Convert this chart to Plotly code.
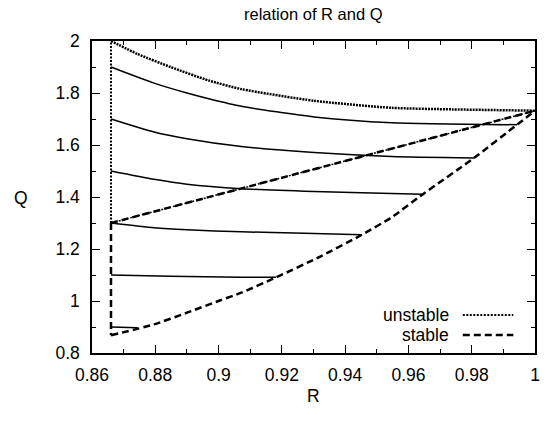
import plotly.graph_objects as go

# ---------------- data ----------------
# unstable branch: upper curve, vertical edge, and middle straight line
R_unst_top = [0.866, 0.8744, 0.8848, 0.8969, 0.9072, 0.9302, 0.9547, 0.974, 1.0]
Q_unst_top = [2.0, 1.950, 1.900, 1.848, 1.815, 1.770, 1.743, 1.737, 1.732]
R_unst_edge = [0.866, 0.866]
Q_unst_edge = [1.3, 2.0]
R_mid = [0.866, 1.0]
Q_mid = [1.3, 1.732]

# stable branch: vertical edge, lower curve
R_stab_edge = [0.866, 0.866]
Q_stab_edge = [1.3, 0.868]
R_stab_low = [0.866, 0.8796, 0.89, 0.9004, 0.9072, 0.9182, 0.9323, 0.9453, 0.9547, 0.9646, 0.9807, 0.9943, 1.0]
Q_stab_low = [0.868, 0.910, 0.955, 1.002, 1.032, 1.091, 1.172, 1.255, 1.322, 1.411, 1.550, 1.678, 1.732]

# trajectories (solid)
traj_R = [
    [0.866, 0.8796, 0.89, 0.8969, 0.9072, 0.9302, 0.9547, 0.9943],
    [0.866, 0.8796, 0.89, 0.9072, 0.9302, 0.9547, 0.9807],
    [0.866, 0.8796, 0.89, 0.9072, 0.9302, 0.9547, 0.9646],
    [0.866, 0.8796, 0.89, 0.9072, 0.9271, 0.9453],
    [0.866, 0.8848, 0.9072, 0.9182],
    [0.866, 0.8744],
]
traj_Q = [
    [1.9, 1.838, 1.800, 1.778, 1.749, 1.708, 1.686, 1.678],
    [1.7, 1.650, 1.624, 1.594, 1.571, 1.556, 1.550],
    [1.5, 1.468, 1.449, 1.432, 1.421, 1.413, 1.411],
    [1.3, 1.282, 1.274, 1.266, 1.261, 1.255],
    [1.1, 1.095, 1.091, 1.091],
    [0.9, 0.897],
]

x_tickvals = [0.86, 0.88, 0.90, 0.92, 0.94, 0.96, 0.98, 1.00]
x_ticktext = ["0.86", "0.88", "0.9", "0.92", "0.94", "0.96", "0.98", "1"]
y_tickvals = [0.8, 1.0, 1.2, 1.4, 1.6, 1.8, 2.0]
y_ticktext = ["0.8", "1", "1.2", "1.4", "1.6", "1.8", "2"]

legend_names = ["unstable", "stable"]

# ---------------- figure ----------------
FONT = "Liberation Sans, Arial, Helvetica, sans-serif"
FS = 17.5
fig = go.Figure()

for R, Q in zip(traj_R, traj_Q):
    fig.add_trace(go.Scatter(x=R, y=Q, mode="lines", showlegend=False,
                             line=dict(color="black", width=1.5, shape="spline", smoothing=0.6)))

dotted = dict(color="black", width=2.5, dash="2px,1px")
dashed = dict(color="black", width=2.5, dash="7px,4px")

fig.add_trace(go.Scatter(x=R_stab_edge, y=Q_stab_edge, mode="lines", showlegend=False, line=dashed))
fig.add_trace(go.Scatter(x=R_stab_low, y=Q_stab_low, mode="lines", showlegend=False,
                         line=dict(dashed, shape="spline", smoothing=0.6)))
fig.add_trace(go.Scatter(x=R_mid, y=Q_mid, mode="lines", showlegend=False, line=dashed))

fig.add_trace(go.Scatter(x=R_unst_edge, y=Q_unst_edge, mode="lines", showlegend=False,
                         line=dict(color="black", width=2, dash="2px,1.5px")))
fig.add_trace(go.Scatter(x=R_unst_top, y=Q_unst_top, mode="lines", showlegend=False,
                         line=dict(dotted, shape="spline", smoothing=0.6)))
fig.add_trace(go.Scatter(x=R_mid, y=Q_mid, mode="lines", showlegend=False,
                         line=dict(color="black", width=1.5, dash="2px,2px")))

axis_common = dict(
    showline=True, linecolor="black", linewidth=1.5, mirror="allticks",
    ticks="inside", ticklen=8, tickwidth=1.2, tickcolor="black",
    showgrid=False, zeroline=False,
    tickfont=dict(family=FONT, size=FS, color="black"),
)
fig.update_xaxes(range=[0.86, 1.0], tickvals=x_tickvals, ticktext=x_ticktext,
                 minor=dict(dtick=0.01, ticks="inside", ticklen=4, tickcolor="black", tickwidth=1.2),
                 ticklabelstandoff=5, **axis_common)
fig.update_yaxes(range=[0.8, 2.0], tickvals=y_tickvals, ticktext=y_ticktext,
                 minor=dict(dtick=0.1, ticks="inside", ticklen=4, tickcolor="black", tickwidth=1.2),
                 ticklabelstandoff=7, **axis_common)

annotations = [
    dict(text="relation of R and Q", x=0.5, y=1.087, xref="paper", yref="paper", xanchor="center",
         showarrow=False, font=dict(family=FONT, size=16.5, color="black"), yanchor="middle"),
    dict(text="R", x=0.5, y=-0.138, xref="paper", yref="paper", xanchor="center",
         showarrow=False, font=dict(family=FONT, size=FS, color="black"), yanchor="middle"),
    dict(text="Q", x=-0.161, y=0.497, xref="paper", yref="paper", xanchor="center",
         showarrow=False, font=dict(family=FONT, size=FS, color="black"), yanchor="middle"),
    dict(text=legend_names[0], x=0.810, y=0.122, xref="paper", yref="paper", xanchor="right",
         showarrow=False, font=dict(family=FONT, size=FS, color="black"), yanchor="middle"),
    dict(text=legend_names[1], x=0.810, y=0.058, xref="paper", yref="paper", xanchor="right",
         showarrow=False, font=dict(family=FONT, size=FS, color="black"), yanchor="middle"),
]
shapes = [
    dict(type="line", xref="paper", yref="paper", x0=0.837, x1=0.951, y0=0.122, y1=0.122,
         line=dict(color="black", width=2, dash="2px,1.5px")),
    dict(type="line", xref="paper", yref="paper", x0=0.837, x1=0.951, y0=0.058, y1=0.058,
         line=dict(color="black", width=2.5, dash="7px,4px")),
]

fig.update_layout(
    width=546, height=421,
    margin=dict(l=92, r=6, t=41, b=68),
    plot_bgcolor="white", paper_bgcolor="white",
    showlegend=False,
    annotations=annotations, shapes=shapes,
)

# remove the browser's default 8px body margin so the figure fills the window exactly
fig.write_html("out.html", config={"displayModeBar": False},
               post_script="document.body.style.margin='0';document.body.style.overflow='hidden';")
